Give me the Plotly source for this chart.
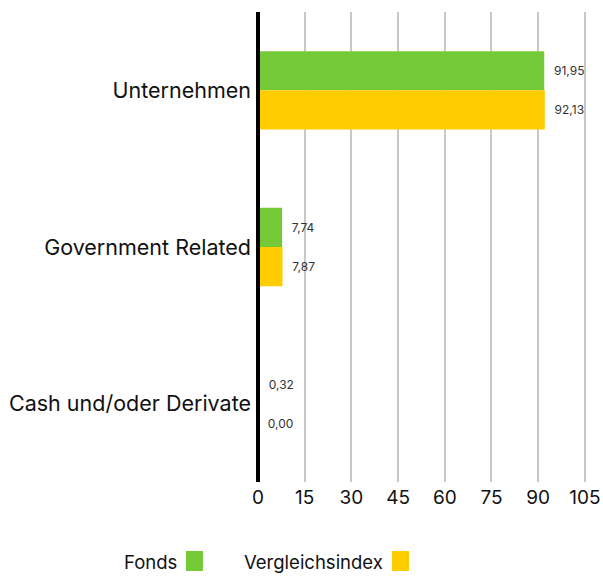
import plotly.graph_objects as go

categories = ["Unternehmen", "Government Related", "Cash und/oder Derivate"]
fonds = [91.95, 7.74, 0.32]
index_vals = [92.13, 7.87, 0.00]
series_names = ["Fonds", "Vergleichsindex"]
colors = ["#74c936", "#ffcc00"]
tick_vals = [0, 15, 30, 45, 60, 75, 90, 105]

FONT = "Inter"
fig = go.Figure()
for name, vals, col in zip(series_names, [fonds, index_vals], colors):
    fig.add_trace(go.Bar(
        y=categories, x=vals, name=name, orientation="h",
        marker=dict(color=col, line=dict(width=0)),
        texttemplate="\u00a0\u00a0%{x:.2f}", textposition="outside",
        textfont=dict(size=12, color="#333333", family=FONT),
        cliponaxis=False, showlegend=False,
    ))

L, R, T, B = 258, 15, 12, 94
W, H = 603, 576
pw, ph = W - L - R, H - T - B

def px(x):
    return (x - L) / pw

def py(y):
    return (H - B - y) / ph

fig.update_layout(
    width=W, height=H,
    margin=dict(l=L, r=R, t=T, b=B),
    barmode="group", bargap=0.5, bargroupgap=0,
    plot_bgcolor="white", paper_bgcolor="white",
    separators=",.",
    font=dict(family=FONT, size=20, color="#111111"),
    xaxis=dict(range=[0, 106], tickvals=tick_vals, showgrid=True,
               gridcolor="#c8c8c8", gridwidth=2, zeroline=True,
               zerolinecolor="black", zerolinewidth=4, showline=False,
               ticks="", tickfont=dict(size=19), automargin=False,
               ticklabelstandoff=2),
    yaxis=dict(autorange="reversed", showgrid=False, ticks="", showline=False,
               tickfont=dict(size=21.5), automargin=False, ticklabelstandoff=6),
)

# black baseline drawn above the bars
fig.add_shape(type="line", xref="x", yref="paper", x0=0, x1=0, y0=0, y1=1,
              line=dict(color="black", width=4), layer="above")

# legend made of annotations + squares (text followed by coloured square)
leg_text_right = [179, 385]
leg_sq_x = [(186, 203), (392, 409)]
for name, col, tr, (sx0, sx1) in zip(series_names, colors, leg_text_right, leg_sq_x):
    fig.add_annotation(xref="paper", yref="paper", x=px(tr), y=py(562),
                       xanchor="right", yanchor="middle", text=name,
                       showarrow=False, font=dict(size=18.5, color="#111111"))
    fig.add_shape(type="rect", xref="paper", yref="paper",
                  x0=px(sx0), x1=px(sx1), y0=py(571), y1=py(551),
                  fillcolor=col, line=dict(width=0))

fig.write_html("out.html", config={"displayModeBar": False},
               post_script="document.body.style.margin='0';")
